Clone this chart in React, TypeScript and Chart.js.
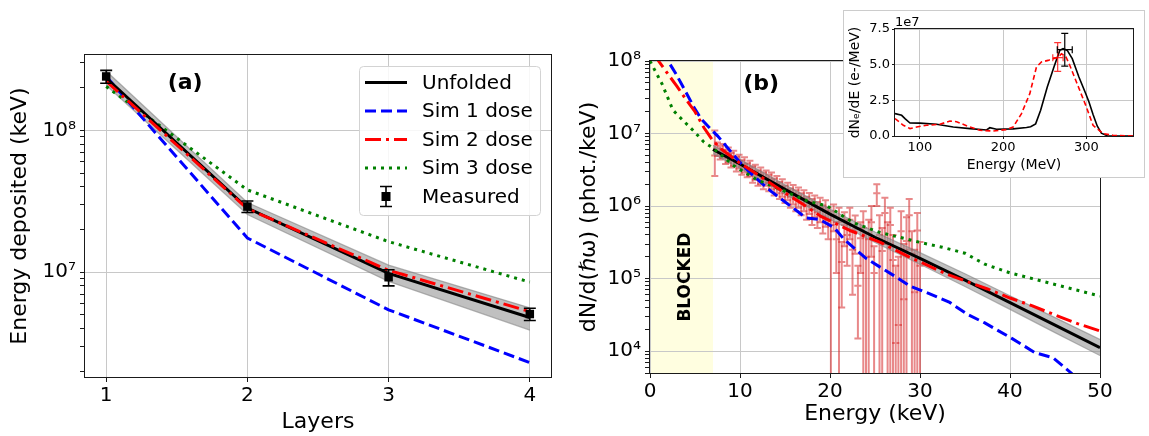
import React, { useEffect, useRef } from 'react';
import { Chart, registerables } from 'chart.js';

Chart.register(...registerables);

const FONT = "'DejaVu Sans', 'Liberation Sans', sans-serif";
const GRID = '#c8c8c8';
const BAND = 'rgba(140,140,140,0.55)';
const BAND_EDGE = 'rgba(120,120,120,0.55)';

// ================= Panel (a): energy deposited per layer =================
const layersA = [1, 2, 3, 4];
const layerTicksA = [1, 2, 3, 4];
const unfoldedA = [2.34e8, 2.83e7, 9.8e6, 4.78e6];
const unfoldedHiA = [2.62e8, 3.1e7, 1.12e7, 5.6e6];
const unfoldedLoA = [2.08e8, 2.55e7, 8.6e6, 3.9e6];
const sim1A = [2.4e8, 1.74e7, 5.42e6, 2.3e6];
const sim2A = [2.22e8, 2.8e7, 1.03e7, 5.27e6];
const sim3A = [2.04e8, 3.8e7, 1.64e7, 8.5e6];
const measuredA = [2.4e8, 2.9e7, 9.2e6, 5.06e6];
const measuredErrA = [2.5e7, 2.7e6, 1.2e6, 5.0e5];

// ================= Panel (b): photon spectrum =================
const energyTicksB = [0, 10, 20, 30, 40, 50];
const blockedRangeB = [0, 7];
const energyUnfB = [7, 10, 15, 20, 25, 30, 35, 40, 45, 50];
const unfoldedB = [6.03e6, 3.8e6, 1.7e6, 7.76e5, 3.72e5, 1.9e5, 9.55e4, 4.68e4, 2.29e4, 1.12e4];
const unfoldedHiB = [6.9e6, 4.4e6, 1.97e6, 9.1e5, 4.4e5, 2.28e5, 1.17e5, 5.8e4, 2.9e4, 1.45e4];
const unfoldedLoB = [5.25e6, 3.3e6, 1.47e6, 6.6e5, 3.15e5, 1.58e5, 7.8e4, 3.77e4, 1.8e4, 8.7e3];

const energySim1B = [1.5, 2, 2.9, 3.9, 4.9, 5.7, 6.9, 7.5, 10, 11.2, 13.5, 16.7, 17.3, 18.9, 20.5, 21.5, 24, 27.1, 28.9, 30.5, 33.3, 35.3, 37.2, 40.2, 42.8, 44.8, 46.8, 48];
const sim1B = [1.41e8, 1.0e8, 6.6e7, 3.9e7, 2.29e7, 1.58e7, 1.1e7, 9.3e6, 4.0e6, 2.82e6, 1.58e6, 7.9e5, 6.9e5, 6.5e5, 5.0e5, 3.55e5, 1.9e5, 1.1e5, 7.9e4, 6.6e4, 4.7e4, 3.2e4, 2.45e4, 1.5e4, 9.5e3, 8.1e3, 5.0e3, 3.5e3];

const energySim2B = [0.5, 0.95, 2, 3, 4, 5, 6, 7, 8, 10, 12, 14.5, 16.7, 19, 22.3, 25.6, 28.6, 30, 33, 35, 37.5, 40, 42.5, 45, 47.5, 50];
const sim2B = [1.26e8, 1.0e8, 6.6e7, 4.47e7, 2.95e7, 2.0e7, 1.2e7, 7.9e6, 6.0e6, 3.9e6, 2.7e6, 1.66e6, 1.12e6, 7.2e5, 4.57e5, 3.16e5, 2.04e5, 1.7e5, 1.15e5, 9.3e4, 7.2e4, 5.4e4, 4.2e4, 3.16e4, 2.4e4, 1.9e4];

const energySim3B = [0, 0.5, 1.35, 2.55, 3.75, 4.9, 6, 7, 9.3, 11.9, 14.5, 17.5, 19.7, 22.6, 25.6, 28.6, 30, 32.5, 35, 37.2, 40, 42.5, 45, 47.5, 50];
const sim3B = [1.0e8, 7.6e7, 4.8e7, 2.1e7, 1.48e7, 1.07e7, 7.6e6, 6.3e6, 3.6e6, 2.3e6, 1.7e6, 1.17e6, 1.0e6, 5.9e5, 4.3e5, 3.5e5, 3.16e5, 2.7e5, 2.24e5, 1.58e5, 1.2e5, 1.0e5, 8.3e4, 6.9e4, 5.75e4];

// measured spectrum (0 lower bound = error bar reaches below the axis)
const measEnergyB = [7.2, 7.5, 7.8, 8.1, 8.4, 8.7, 9.0, 9.3, 9.6, 9.9, 10.2, 10.5, 10.8, 11.1, 11.4, 11.7, 12.0, 12.3, 12.6, 12.9, 13.2, 13.5, 13.8, 14.1, 14.4, 14.7, 15.0, 15.3, 15.6, 15.9, 16.2, 16.5, 16.8, 17.1, 17.4, 17.7, 18.0, 18.3, 18.6, 18.9, 19.2, 19.5, 19.8, 20.1, 20.4, 20.7, 21.0, 21.3, 21.6, 21.9, 22.2, 22.5, 22.8, 23.1, 23.4, 23.7, 24.0, 24.3, 24.6, 24.9, 25.2, 25.5, 25.8, 26.1, 26.4, 26.7, 27.0, 27.3, 27.6, 27.9, 28.2, 28.5, 28.8, 29.1, 29.4, 29.7, 30.0];
const measValueB = [5.0e6, 6.2e6, 5.6e6, 5.9e6, 4.9e6, 5.2e6, 4.4e6, 4.7e6, 3.9e6, 4.2e6, 3.5e6, 3.8e6, 3.2e6, 3.4e6, 2.8e6, 3.0e6, 2.5e6, 2.7e6, 2.3e6, 2.5e6, 2.1e6, 2.3e6, 1.9e6, 2.05e6, 1.7e6, 1.85e6, 1.5e6, 1.65e6, 1.35e6, 1.5e6, 1.25e6, 1.38e6, 1.12e6, 1.25e6, 1.0e6, 1.15e6, 9.0e5, 1.05e6, 8.2e5, 9.5e5, 7.2e5, 8.6e5, 6.5e5, 5.5e5, 7.5e5, 3.5e5, 6.0e5, 1.7e5, 5.5e5, 4.0e5, 6.5e5, 2.5e5, 4.8e5, 8.0e4, 3.6e5, 5.0e5, 2.0e5, 3.5e5, 6.0e5, 1.2e5, 1.5e6, 4.0e5, 2.4e5, 8.0e5, 3.0e5, 5.5e5, 1.8e5, 1.3e4, 2.3e4, 4.5e5, 5.2e4, 3.3e5, 7.5e5, 2.2e5, 6.5e4, 4.6e5, 1.5e5];
const measLowB = [2.6e6, 4.9e6, 4.4e6, 4.6e6, 3.8e6, 4.0e6, 3.4e6, 3.6e6, 3.0e6, 3.3e6, 2.7e6, 2.9e6, 2.5e6, 2.6e6, 2.1e6, 2.3e6, 1.9e6, 2.0e6, 1.7e6, 1.9e6, 1.6e6, 1.7e6, 1.4e6, 1.5e6, 1.25e6, 1.35e6, 1.1e6, 1.2e6, 9.5e5, 1.05e6, 8.5e5, 9.5e5, 7.5e5, 8.5e5, 6.5e5, 7.8e5, 5.5e5, 7.0e5, 5.0e5, 6.0e5, 4.2e5, 5.2e5, 3.5e5, 0, 4.5e5, 1.2e5, 0, 4.0e4, 2.8e5, 1.5e5, 3.5e5, 6.0e4, 2.2e5, 1.5e4, 1.2e5, 0, 0, 0, 2.0e5, 0, 1.0e6, 0, 0, 3.0e5, 0, 0, 0, 0, 0, 0, 0, 0, 2.5e5, 0, 0, 0, 0];
const measHighB = [1.1e7, 7.5e6, 6.8e6, 7.2e6, 6.0e6, 6.4e6, 5.4e6, 5.8e6, 4.8e6, 5.1e6, 4.3e6, 4.7e6, 3.9e6, 4.2e6, 3.5e6, 3.7e6, 3.1e6, 3.4e6, 2.9e6, 3.1e6, 2.7e6, 2.9e6, 2.4e6, 2.6e6, 2.15e6, 2.35e6, 1.9e6, 2.1e6, 1.75e6, 1.95e6, 1.65e6, 1.8e6, 1.5e6, 1.65e6, 1.35e6, 1.52e6, 1.25e6, 1.4e6, 1.14e6, 1.3e6, 1.02e6, 1.2e6, 9.5e5, 8.5e5, 1.05e6, 6.0e5, 9.5e5, 3.2e5, 8.2e5, 6.5e5, 9.5e5, 4.5e5, 7.4e5, 1.5e5, 6.0e5, 8.5e5, 4.2e5, 6.5e5, 1.0e6, 2.8e5, 2.0e6, 7.5e5, 5.0e5, 1.3e6, 6.0e5, 9.5e5, 4.0e5, 1.5e5, 2.0e5, 8.5e5, 3.0e5, 7.0e5, 1.25e6, 4.5e5, 2.5e5, 8.0e5, 3.2e5];
const measBinHalfWidthB = 0.4;

// ================= Inset: electron spectrum =================
const insetEnergyTicks = [100, 200, 300];
const energyInsetBlack = [70, 78, 82, 88, 100, 120, 140, 160, 180, 184, 192, 212, 228, 233, 239, 245, 253, 261, 268, 272, 277, 283, 291, 299, 303, 308, 313, 318, 325, 330, 356];
const spectrumBlack = [1.57e7, 1.45e7, 1.22e7, 0.91e7, 0.9e7, 0.82e7, 0.63e7, 0.52e7, 0.42e7, 0.58e7, 0.47e7, 0.5e7, 0.6e7, 0.65e7, 0.85e7, 1.8e7, 3.43e7, 4.84e7, 6.0e7, 6.13e7, 6.0e7, 5.42e7, 4.14e7, 3.0e7, 2.4e7, 1.5e7, 0.7e7, 0.2e7, 0.02e7, 0, 0];
const energyInsetRed = [70, 80, 88, 96, 108, 124, 136, 144, 156, 172, 188, 204, 212, 222, 232, 240, 246, 254, 262, 266, 270, 275, 280, 288, 300, 308, 320, 332, 356];
const spectrumRed = [1.22e7, 0.75e7, 0.52e7, 0.63e7, 0.75e7, 0.82e7, 1.05e7, 1.0e7, 0.72e7, 0.4e7, 0.35e7, 0.45e7, 0.63e7, 1.57e7, 2.97e7, 4.84e7, 5.19e7, 5.3e7, 5.45e7, 5.5e7, 5.77e7, 5.6e7, 4.96e7, 3.79e7, 2.03e7, 0.75e7, 0.17e7, 0.05e7, 0];
const peakEnergyRed = [265.5];
const peakValueRed = [5.49e7];
const peakLowRed = [4.53e7];
const peakHighRed = [6.55e7];
const peakELowRed = [259.6];
const peakEHighRed = [272];
const peakEnergyBlack = [274];
const peakValueBlack = [6.05e7];
const peakLowBlack = [4.9e7];
const peakHighBlack = [7.2e7];
const peakELowBlack = [265];
const peakEHighBlack = [283];

// ================= helpers =================
const SUP: Record<string, string> = { '0': '⁰', '1': '¹', '2': '²', '3': '³', '4': '⁴', '5': '⁵', '6': '⁶', '7': '⁷', '8': '⁸', '9': '⁹', '-': '⁻' };
const exp10 = (v: number) => Math.round(Math.log10(v));
const isPow10 = (v: number) => v > 0 && Math.abs(Math.log10(v) - exp10(v)) < 1e-6;
const isNiceLog = (v: number) => {
  if (v <= 0) return false;
  const e = Math.floor(Math.log10(v) + 1e-9);
  const s = v / Math.pow(10, e);
  return Math.abs(s - Math.round(s)) < 1e-6;
};
const powLabel = (v: number) => (isPow10(v) ? '10' + String(exp10(v)).split('').map((c) => SUP[c]).join('') : '');
const xy = (xs: number[], ys: number[]) => xs.map((x, i) => ({ x, y: ys[i] }));

const frameOutline = {
  id: 'frameOutline',
  afterDraw(chart: any) {
    const { ctx, chartArea: a } = chart;
    ctx.save();
    ctx.strokeStyle = '#1a1a1a';
    ctx.lineWidth = 1;
    const l = Math.round(a.left), t = Math.round(a.top), r = Math.round(a.right), b = Math.round(a.bottom);
    ctx.strokeRect(l - 0.5, t - 0.5, r - l + 1, b - t + 1);
    ctx.restore();
  },
};

function drawErrorBars(chart: any, layer: string) {
  const { ctx, chartArea: a, scales } = chart;
  ctx.save();
  ctx.beginPath();
  ctx.rect(a.left, a.top, a.right - a.left, a.bottom - a.top);
  ctx.clip();
  chart.data.datasets.forEach((ds: any) => {
    if (!ds.errHi || ds.errLayer !== layer) return;
    ctx.strokeStyle = ds.errColor;
    ctx.lineWidth = ds.errWidth;
    ds.data.forEach((p: any, i: number) => {
      const px = scales.x.getPixelForValue(p.x);
      const py = scales.y.getPixelForValue(p.y);
      const hasLo = ds.errLo[i] > 0;
      const yLo = hasLo ? scales.y.getPixelForValue(ds.errLo[i]) : a.bottom + 5;
      const yHi = scales.y.getPixelForValue(ds.errHi[i]);
      const cap = ds.errCap;
      ctx.beginPath();
      ctx.moveTo(px, yLo);
      ctx.lineTo(px, yHi);
      ctx.moveTo(px - cap, yHi);
      ctx.lineTo(px + cap, yHi);
      if (hasLo) {
        ctx.moveTo(px - cap, yLo);
        ctx.lineTo(px + cap, yLo);
      }
      if (ds.errXLo) {
        const x0 = scales.x.getPixelForValue(ds.errXLo[i]);
        const x1 = scales.x.getPixelForValue(ds.errXHi[i]);
        ctx.moveTo(x0, py);
        ctx.lineTo(x1, py);
        if (ds.errXCap) {
          ctx.moveTo(x0, py - ds.errXCap);
          ctx.lineTo(x0, py + ds.errXCap);
          ctx.moveTo(x1, py - ds.errXCap);
          ctx.lineTo(x1, py + ds.errXCap);
        }
      }
      ctx.stroke();
    });
  });
  ctx.restore();
}

const errorBarPlugin = {
  id: 'errorBars',
  beforeDatasetsDraw(chart: any) {
    drawErrorBars(chart, 'under');
  },
  afterDatasetsDraw(chart: any) {
    drawErrorBars(chart, 'over');
  },
};

const tickFont = { family: FONT, size: 20 };
const titleFont = { family: FONT, size: 22 };

function logAxis(min: number, max: number, width: number, title: string, titlePad: number) {
  return {
    type: 'logarithmic',
    min,
    max,
    afterFit: (s: any) => {
      s.width = width;
    },
    afterBuildTicks: (s: any) => {
      s.ticks = s.ticks.filter((t: any) => isNiceLog(t.value));
    },
    ticks: { autoSkip: false, callback: (v: any) => powLabel(Number(v)), font: tickFont, color: '#000', padding: 4 },
    grid: {
      color: (c: any) => (c.tick && isPow10(c.tick.value) ? GRID : 'rgba(0,0,0,0)'),
      tickColor: '#1a1a1a',
      tickLength: 5,
      lineWidth: 1,
    },
    border: { display: false },
    title: { display: true, text: title, font: titleFont, color: '#000', padding: { top: titlePad, bottom: 0 } },
  };
}

function linearXAxis(min: number, max: number, height: number, ticks: number[], title: string, titlePadBottom: number, pad: number) {
  return {
    type: 'linear',
    min,
    max,
    afterFit: (s: any) => {
      s.height = height;
    },
    afterBuildTicks: (s: any) => {
      s.ticks = ticks.map((v) => ({ value: v }));
    },
    ticks: { autoSkip: false, maxRotation: 0, font: tickFont, color: '#000', padding: pad, callback: (v: any) => String(v) },
    grid: { color: GRID, tickColor: '#1a1a1a', tickLength: 5, lineWidth: 1 },
    border: { display: false },
    title: { display: true, text: title, font: titleFont, color: '#000', padding: { top: 0, bottom: titlePadBottom } },
  };
}

const lineDs = (label: string, xs: number[], ys: number[], color: string, dash: number[], order: number, width = 3) => ({
  label,
  data: xy(xs, ys),
  borderColor: color,
  backgroundColor: color,
  borderWidth: width,
  borderDash: dash,
  pointRadius: 0,
  fill: false,
  order,
});

const bandDs = (xs: number[], hi: number[], lo: number[]) => [
  { label: 'band hi', data: xy(xs, hi), borderColor: BAND_EDGE, backgroundColor: BAND, borderWidth: 1.2, pointRadius: 0, fill: '+1', order: 8 },
  { label: 'band lo', data: xy(xs, lo), borderColor: BAND_EDGE, backgroundColor: BAND, borderWidth: 1.2, pointRadius: 0, fill: false, order: 9 },
];

const baseOptions = {
  responsive: false,
  maintainAspectRatio: false,
  animation: false,
  devicePixelRatio: 1,
  events: [],
  plugins: { legend: { display: false }, tooltip: { enabled: false } },
};

// ================= Panel (a) =================
const legendPluginA = {
  id: 'legendA',
  afterDraw(chart: any) {
    const { ctx, chartArea: a } = chart;
    const left = a.right - 192;
    const top = a.top + 11;
    const w = 181;
    const h = 149;
    ctx.save();
    ctx.beginPath();
    if (ctx.roundRect) ctx.roundRect(left + 0.5, top + 0.5, w, h, 4);
    else ctx.rect(left + 0.5, top + 0.5, w, h);
    ctx.fillStyle = 'rgba(255,255,255,0.85)';
    ctx.fill();
    ctx.strokeStyle = '#d3d3d3';
    ctx.lineWidth = 1;
    ctx.stroke();
    const rows = ['Unfolded', 'Sim 1 dose', 'Sim 2 dose', 'Sim 3 dose', 'Measured'];
    rows.forEach((label, i) => {
      const cy = top + 16.5 + i * 28.5;
      const ds: any = chart.data.datasets.find((d: any) => d.label === label);
      if (label === 'Measured') {
        const cx = left + 27;
        ctx.strokeStyle = '#000';
        ctx.lineWidth = 1.6;
        ctx.setLineDash([]);
        ctx.beginPath();
        ctx.moveTo(cx, cy - 10);
        ctx.lineTo(cx, cy + 10);
        ctx.moveTo(cx - 6, cy - 10);
        ctx.lineTo(cx + 6, cy - 10);
        ctx.moveTo(cx - 6, cy + 10);
        ctx.lineTo(cx + 6, cy + 10);
        ctx.stroke();
        ctx.fillStyle = '#000';
        ctx.fillRect(cx - 4.5, cy - 4.5, 9, 9);
      } else {
        ctx.strokeStyle = ds.borderColor;
        ctx.lineWidth = ds.borderWidth;
        ctx.setLineDash(ds.borderDash || []);
        ctx.beginPath();
        ctx.moveTo(left + 6, cy);
        ctx.lineTo(left + 48, cy);
        ctx.stroke();
        ctx.setLineDash([]);
      }
      ctx.fillStyle = '#000';
      ctx.font = `20px ${FONT}`;
      ctx.textAlign = 'left';
      ctx.textBaseline = 'middle';
      ctx.fillText(label, left + 63, cy + 1);
    });
    ctx.restore();
  },
};

const panelLabelPlugin = (text: string, fx: number, fy: number) => ({
  id: 'panelLabel',
  afterDraw(chart: any) {
    const { ctx, chartArea: a } = chart;
    ctx.save();
    ctx.font = `bold 22px ${FONT}`;
    ctx.fillStyle = '#000';
    ctx.textAlign = 'center';
    ctx.textBaseline = 'middle';
    ctx.fillText(text, a.left + fx * (a.right - a.left), a.top + fy * (a.bottom - a.top));
    ctx.restore();
  },
});

function makeA() {
  return {
    type: 'line',
    data: {
      datasets: [
        {
          label: 'Measured',
          data: xy(layersA, measuredA),
          showLine: false,
          pointStyle: 'rect',
          pointRadius: 6,
          pointBorderWidth: 0,
          backgroundColor: '#000',
          borderColor: '#000',
          order: 0,
          errLo: measuredA.map((v, i) => v - measuredErrA[i]),
          errHi: measuredA.map((v, i) => v + measuredErrA[i]),
          errColor: '#000',
          errWidth: 1.6,
          errCap: 6,
          errLayer: 'over',
        },
        lineDs('Sim 2 dose', layersA, sim2A, '#ff0000', [16, 5, 3, 5], 1),
        lineDs('Unfolded', layersA, unfoldedA, '#000000', [], 2),
        lineDs('Sim 3 dose', layersA, sim3A, '#008000', [3, 5], 3),
        lineDs('Sim 1 dose', layersA, sim1A, '#0000ff', [11, 5], 4),
        ...bandDs(layersA, unfoldedHiA, unfoldedLoA),
      ],
    },
    options: {
      ...baseOptions,
      layout: { padding: { left: 0, top: 55, right: 19, bottom: 0 } },
      scales: {
        x: linearXAxis(0.85, 4.15, 59, layerTicksA, 'Layers', 1, 2),
        y: logAxis(1.82e6, 3.4e8, 85, 'Energy deposited (keV)', 7),
      },
    },
    plugins: [errorBarPlugin, frameOutline, legendPluginA, panelLabelPlugin('(a)', 0.215, 0.087)],
  };
}

// ================= Panel (b) =================
const blockedPlugin = {
  id: 'blocked',
  beforeDraw(chart: any) {
    const { ctx, chartArea: a, scales } = chart;
    const x0 = scales.x.getPixelForValue(blockedRangeB[0]);
    const x1 = scales.x.getPixelForValue(blockedRangeB[1]);
    ctx.save();
    ctx.fillStyle = 'rgb(255,254,224)';
    ctx.fillRect(x0, a.top, x1 - x0, a.bottom - a.top);
    ctx.restore();
  },
  afterDatasetsDraw(chart: any) {
    const { ctx, scales } = chart;
    const x = scales.x.getPixelForValue(4.0);
    const y = scales.y.getPixelForValue(1.05e5);
    ctx.save();
    ctx.translate(x, y);
    ctx.rotate(-Math.PI / 2);
    ctx.font = `bold 17px ${FONT}`;
    ctx.fillStyle = '#000';
    ctx.textAlign = 'center';
    ctx.textBaseline = 'middle';
    ctx.fillText('BLOCKED', 0, 0);
    ctx.restore();
  },
};

function makeB() {
  return {
    type: 'line',
    data: {
      datasets: [
        {
          label: 'Measured',
          data: xy(measEnergyB, measValueB),
          showLine: false,
          pointRadius: 0,
          order: 0,
          errLo: measLowB,
          errHi: measHighB,
          errXLo: measEnergyB.map((e) => e - measBinHalfWidthB),
          errXHi: measEnergyB.map((e) => e + measBinHalfWidthB),
          errColor: 'rgba(214,39,40,0.55)',
          errWidth: 2,
          errCap: 3.5,
          errLayer: 'under',
        },
        lineDs('Sim 2 dose', energySim2B, sim2B, '#ff0000', [16, 5, 3, 5], 1),
        lineDs('Sim 3 dose', energySim3B, sim3B, '#008000', [3, 5], 2),
        lineDs('Sim 1 dose', energySim1B, sim1B, '#0000ff', [11, 5], 3),
        lineDs('Unfolded', energyUnfB, unfoldedB, '#000000', [], 4),
        ...bandDs(energyUnfB, unfoldedHiB, unfoldedLoB),
      ],
    },
    options: {
      ...baseOptions,
      layout: { padding: { left: 0, top: 61, right: 49, bottom: 0 } },
      scales: {
        x: linearXAxis(0, 50, 63, energyTicksB, 'Energy (keV)', 9, 2),
        y: logAxis(5e3, 1e8, 80, 'dN/d(ℏω) (phot./keV)', 6),
      },
    },
    plugins: [blockedPlugin, errorBarPlugin, frameOutline, panelLabelPlugin('(b)', 0.247, 0.075)],
  };
}

// ================= Inset =================
const insetBgPlugin = {
  id: 'insetBg',
  beforeDraw(chart: any) {
    const { ctx, width, height } = chart;
    ctx.save();
    ctx.fillStyle = '#ffffff';
    ctx.fillRect(0, 0, width, height);
    ctx.strokeStyle = '#cccccc';
    ctx.lineWidth = 1;
    ctx.strokeRect(0.5, 0.5, width - 1, height - 1);
    ctx.restore();
  },
  afterDraw(chart: any) {
    const { ctx, chartArea: a } = chart;
    ctx.save();
    ctx.font = `13px ${FONT}`;
    ctx.fillStyle = '#000';
    ctx.textAlign = 'left';
    ctx.textBaseline = 'middle';
    ctx.fillText('1e7', a.left, a.top - 6);
    ctx.restore();
  },
};

function makeInset() {
  const small = { family: FONT, size: 13 };
  const lab = { family: FONT, size: 14 };
  return {
    type: 'line',
    data: {
      datasets: [
        {
          label: 'peak red',
          data: xy(peakEnergyRed, peakValueRed),
          showLine: false,
          pointRadius: 0,
          order: 0,
          errLo: peakLowRed,
          errHi: peakHighRed,
          errXLo: peakELowRed,
          errXHi: peakEHighRed,
          errXCap: 3.5,
          errColor: 'rgba(255,0,0,0.8)',
          errWidth: 1.2,
          errCap: 3.5,
          errLayer: 'over',
        },
        {
          label: 'peak black',
          data: xy(peakEnergyBlack, peakValueBlack),
          showLine: false,
          pointRadius: 0,
          order: 0,
          errLo: peakLowBlack,
          errHi: peakHighBlack,
          errXLo: peakELowBlack,
          errXHi: peakEHighBlack,
          errXCap: 3.5,
          errColor: '#000',
          errWidth: 1.2,
          errCap: 3.5,
          errLayer: 'over',
        },
        lineDs('Electrons (sim)', energyInsetRed, spectrumRed, '#ff0000', [5, 3], 1, 1.6),
        lineDs('Electrons (measured)', energyInsetBlack, spectrumBlack, '#000000', [], 2, 1.6),
      ],
    },
    options: {
      ...baseOptions,
      layout: { padding: { left: 0, top: 19, right: 12, bottom: 0 } },
      scales: {
        x: {
          type: 'linear',
          min: 70,
          max: 356,
          afterFit: (s: any) => {
            s.height = 42;
          },
          afterBuildTicks: (s: any) => {
            s.ticks = insetEnergyTicks.map((v) => ({ value: v }));
          },
          ticks: { autoSkip: false, maxRotation: 0, font: small, color: '#000', padding: 1, callback: (v: any) => String(v) },
          grid: { color: GRID, tickColor: '#1a1a1a', tickLength: 3, lineWidth: 1 },
          border: { display: false },
          title: { display: true, text: 'Energy (MeV)', font: lab, color: '#000', padding: { top: 0, bottom: 4 } },
        },
        y: {
          type: 'linear',
          min: 0,
          max: 7.5e7,
          afterFit: (s: any) => {
            s.width = 52;
          },
          ticks: { stepSize: 2.5e7, autoSkip: false, font: small, color: '#000', padding: 2, callback: (v: any) => (Number(v) / 1e7).toFixed(1) },
          grid: { color: GRID, tickColor: '#1a1a1a', tickLength: 3, lineWidth: 1 },
          border: { display: false },
          title: { display: true, text: 'dNₑ/dE (e-/MeV)', font: lab, color: '#000', padding: { top: 4, bottom: 0 } },
        },
      },
    },
    plugins: [insetBgPlugin, errorBarPlugin, frameOutline],
  };
}

export default function App() {
  const refA = useRef<HTMLCanvasElement>(null);
  const refB = useRef<HTMLCanvasElement>(null);
  const refI = useRef<HTMLCanvasElement>(null);
  useEffect(() => {
    const ca = new Chart(refA.current as any, makeA() as any);
    const cb = new Chart(refB.current as any, makeB() as any);
    const ci = new Chart(refI.current as any, makeInset() as any);
    return () => {
      ca.destroy();
      cb.destroy();
      ci.destroy();
    };
  }, []);
  return (
    <div style={{ position: 'fixed', left: 0, top: 0, width: 1149, height: 436, background: '#fff', overflow: 'hidden' }}>
      <canvas ref={refA} width={570} height={436} style={{ position: 'absolute', left: 0, top: 0, width: 570, height: 436 }} />
      <canvas ref={refB} width={579} height={436} style={{ position: 'absolute', left: 570, top: 0, width: 579, height: 436 }} />
      <canvas ref={refI} width={302} height={168} style={{ position: 'absolute', left: 843, top: 10, width: 302, height: 168, zIndex: 2 }} />
    </div>
  );
}
